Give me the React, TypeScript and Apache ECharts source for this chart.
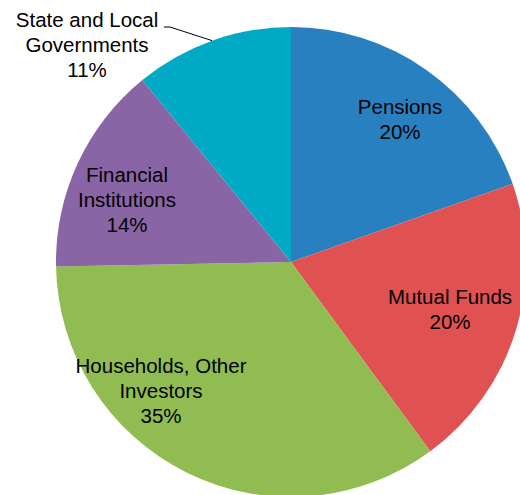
import React, { useEffect, useRef } from "react";
import * as echarts from "echarts";

const categories = [
  "Pensions",
  "Mutual Funds",
  "Households, Other\nInvestors",
  "Financial\nInstitutions",
  "State and Local\nGovernments",
];
// shares (%)
const values = [19.6, 20.3, 34.8, 14.4, 10.9];
const colors = ["#2980C0", "#E05252", "#91BC52", "#8A65A6", "#00AAC4"];
// label block centres (pixels)
const labelPos: number[][] = [
  [400, 119],
  [450, 309],
  [161, 390],
  [127, 199],
  [87, 44],
];

export default function App() {
  const ref = useRef<HTMLDivElement>(null);
  useEffect(() => {
    if (!ref.current) return;
    document.body.style.margin = "0";
    document.body.style.overflow = "hidden";
    const chart = echarts.init(ref.current, null, { renderer: "svg" });
    const outsideIdx = 4;
    chart.setOption({
      animation: false,
      series: [
        {
          type: "pie",
          center: [291, 262],
          radius: 235,
          startAngle: 90,
          clockwise: true,
          silent: true,
          itemStyle: { borderWidth: 0 },
          label: {
            show: true,
            position: "inside",
            formatter: (p: any) => `${p.name}\n${Math.round(p.percent)}%`,
            fontFamily: "'Liberation Sans', Arial, sans-serif",
            fontSize: 20.5,
            lineHeight: 25,
            color: "#000",
          },
          labelLine: { show: false },
          labelLayout: (params: any) => {
            const i = params.dataIndex;
            const p = labelPos[i];
            const res: any = {
              x: p[0],
              y: p[1],
              align: "center",
              verticalAlign: "middle",
            };
            if (i === outsideIdx && params.labelLinePoints) {
              const start = params.labelLinePoints[0];
              res.labelLinePoints = [
                [start[0], start[1]],
                [170, 27],
                [164, 27],
              ];
            }
            return res;
          },
          data: categories.map((c, i) =>
            i === outsideIdx
              ? {
                  name: c,
                  value: values[i],
                  itemStyle: { color: colors[i] },
                  label: { position: "outside" },
                  labelLine: {
                    show: true,
                    length: 20,
                    length2: 5,
                    lineStyle: { color: "#000", width: 1 },
                  },
                }
              : { name: c, value: values[i], itemStyle: { color: colors[i] } }
          ),
        },
      ],
    });
    return () => chart.dispose();
  }, []);
  return <div ref={ref} style={{ width: 520, height: 495 }} />;
}
